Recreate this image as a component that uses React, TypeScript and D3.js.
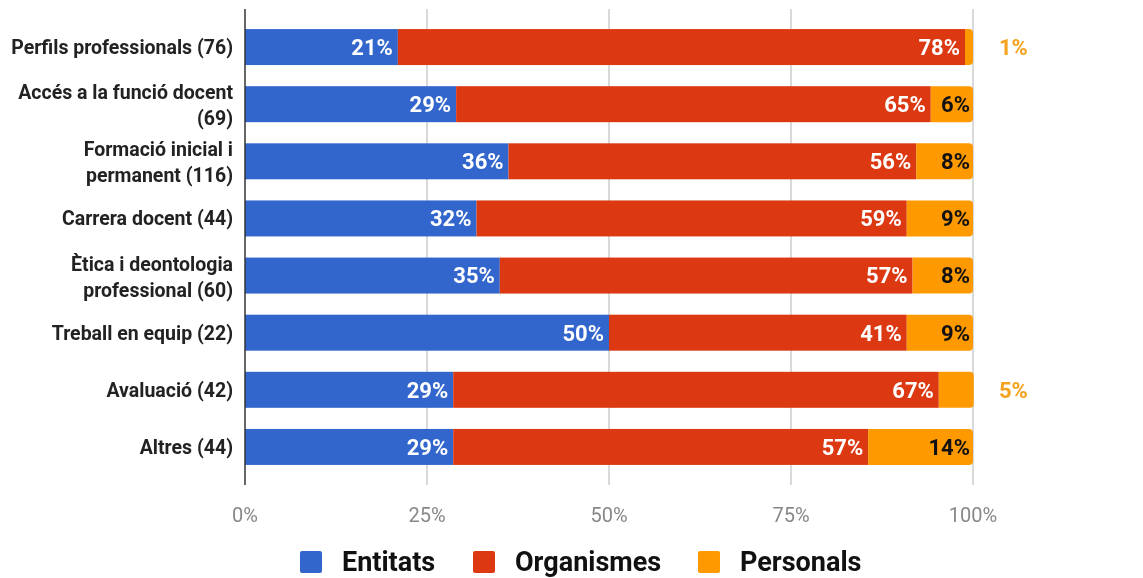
import { useEffect, useRef } from "react";
import * as d3 from "d3";

const categories = [
  "Perfils professionals (76)",
  "Accés a la funció docent\n(69)",
  "Formació inicial i\npermanent (116)",
  "Carrera docent (44)",
  "Ètica i deontologia\nprofessional (60)",
  "Treball en equip (22)",
  "Avaluació (42)",
  "Altres (44)",
];
const seriesNames = ["Entitats", "Organismes", "Personals"];
const entitats = [21.0, 29.0, 36.2, 31.8, 35.0, 50.0, 28.6, 28.6];
const organismes = [77.9, 65.2, 56.0, 59.1, 56.7, 40.9, 66.7, 57.0];
const personals = [1.1, 5.8, 7.8, 9.1, 8.3, 9.1, 4.8, 14.4];
const ticks = [0, 25, 50, 75, 100];
const colors = ["#3366CC", "#DC3912", "#FF9900"];

const App = () => {
  const container = useRef<HTMLDivElement>(null);

  useEffect(() => {
    const el = container.current;
    if (!el) return;
    el.innerHTML = "";

    const width = 1143, height = 578;
    const left = 245, right = 973;

    const svg = d3.select(el).append("svg")
      .attr("width", width)
      .attr("height", height)
      .style("display", "block")
      .style("font-family", "Roboto, sans-serif");

    const x = d3.scaleLinear().domain([0, 100]).range([left, right]);
    const y = d3.scaleBand().domain(categories).range([18.5, 475.5]).paddingInner(0.37).paddingOuter(0.185);

    // grid
    svg.append("g").selectAll("line")
      .data(ticks.slice(1))
      .join("line")
      .attr("x1", d => x(d)).attr("x2", d => x(d))
      .attr("y1", 9).attr("y2", 485)
      .attr("stroke", "#cccccc").attr("stroke-width", 1.5);

    svg.append("g").selectAll("text")
      .data(ticks)
      .join("text")
      .attr("x", d => x(d))
      .attr("y", 522)
      .attr("text-anchor", "middle")
      .style("font-size", "20px")
      .style("fill", "#888888")
      .text(d => d + "%");

    const rows = categories.map((c, i) => ({ c, vals: [entitats[i], organismes[i], personals[i]] }));
    const bh = y.bandwidth();

    rows.forEach(row => {
      const y0 = y(row.c) as number;
      let acc = 0;
      row.vals.forEach((v, j) => {
        const x0 = x(acc), x1 = x(acc + v);
        acc += v;
        if (j < 2) {
          svg.append("rect")
            .attr("x", x0).attr("y", y0)
            .attr("width", x1 - x0).attr("height", bh)
            .attr("fill", colors[j]);
        } else {
          const r = 4, w = x1 - x0;
          const rr = Math.min(r, w);
          svg.append("path")
            .attr("d", `M${x0},${y0} H${x1 - rr} Q${x1},${y0} ${x1},${y0 + rr} V${y0 + bh - rr} Q${x1},${y0 + bh} ${x1 - rr},${y0 + bh} H${x0} Z`)
            .attr("fill", colors[j]);
        }
        const label = Math.round(v) + "%";
        const small = j === 2 && v < 5;
        svg.append("text")
          .attr("x", small ? right + 26 : x1 - (j === 2 ? 3 : 5))
          .attr("y", y0 + bh / 2)
          .attr("dy", "0.36em")
          .attr("text-anchor", small ? "start" : "end")
          .style("font-size", "22px")
          .style("font-weight", "bold")
          .style("fill", small ? "#F5A21E" : j === 2 ? "#111111" : "#ffffff")
          .text(label);
      });
    });

    // axis baseline
    svg.append("line")
      .attr("x1", left).attr("x2", left)
      .attr("y1", 9).attr("y2", 485)
      .attr("stroke", "#333333").attr("stroke-width", 1.5);

    // category labels
    categories.forEach(c => {
      const lines = c.split("\n");
      const cy = (y(c) as number) + bh / 2;
      const t = svg.append("text")
        .attr("text-anchor", "end")
        .style("font-size", "19.5px")
        .style("font-weight", "bold")
        .style("fill", "#222222");
      lines.forEach((ln, k) => {
        const off = lines.length === 1 ? 0 : (k === 0 ? -12 : 14);
        t.append("tspan")
          .attr("x", 233)
          .attr("y", cy + off)
          .attr("dy", "0.36em")
          .text(ln);
      });
    });

    // legend
    const legendX = [300, 473, 698];
    seriesNames.forEach((s, i) => {
      svg.append("rect")
        .attr("x", legendX[i]).attr("y", 551)
        .attr("width", 22).attr("height", 22)
        .attr("rx", 2)
        .attr("fill", colors[i]);
      svg.append("text")
        .attr("x", legendX[i] + 42)
        .attr("y", 561)
        .attr("dy", "0.36em")
        .style("font-size", "27px")
        .style("font-weight", "bold")
        .style("fill", "#111111")
        .text(s);
    });
  }, []);

  return <div ref={container} style={{ position: "fixed", top: 0, left: 0, overflow: "hidden" }}></div>;
};

export default App;
